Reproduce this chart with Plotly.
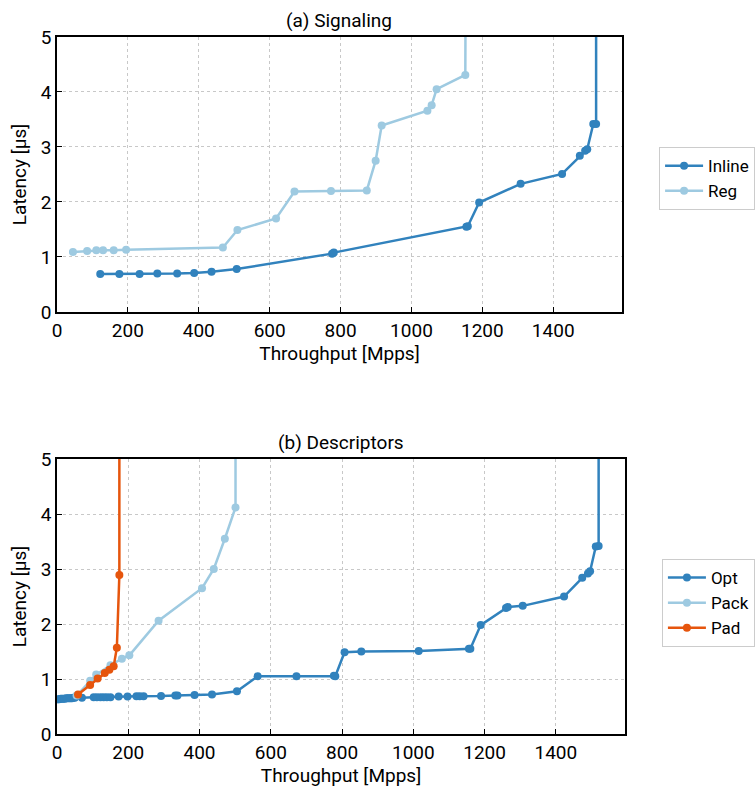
import plotly.graph_objects as go

# ---- (a) Signaling ----
inline_x = [122, 176, 233, 283, 339, 387, 436, 507, 776, 781, 1155, 1159, 1191, 1308, 1425, 1475, 1490, 1496, 1513, 1521, 1521]
inline_y = [0.69, 0.69, 0.69, 0.70, 0.70, 0.71, 0.73, 0.78, 1.06, 1.08, 1.55, 1.56, 1.99, 2.33, 2.51, 2.84, 2.93, 2.96, 3.42, 3.42, 12.0]

reg_x = [45, 85, 111, 130, 160, 195, 468, 509, 618, 670, 773, 874, 899, 916, 1045, 1057, 1071, 1152, 1156]
reg_y = [1.09, 1.11, 1.12, 1.12, 1.12, 1.13, 1.17, 1.49, 1.70, 2.19, 2.20, 2.21, 2.75, 3.39, 3.66, 3.76, 4.05, 4.31, 12.0]

# ---- (b) Descriptors ----
opt_x = [2, 6, 10, 14, 18, 22, 26, 30, 34, 38, 42, 46, 50, 70, 103, 112, 122, 131, 140, 150,
         173, 198, 223, 232, 243, 292, 332, 338, 386, 435, 505, 563, 672, 777, 781, 807, 854,
         1015, 1156, 1160, 1189, 1260, 1265, 1307, 1423, 1474, 1490, 1496, 1512, 1520, 1520]
opt_y = [0.63, 0.63, 0.64, 0.64, 0.64, 0.64, 0.65, 0.65, 0.65, 0.65, 0.65, 0.66, 0.66, 0.66, 0.67, 0.67, 0.67, 0.67, 0.67, 0.67,
         0.68, 0.68, 0.685, 0.685, 0.685, 0.69, 0.70, 0.70, 0.71, 0.72, 0.776, 1.05, 1.05, 1.06, 1.05, 1.485, 1.50,
         1.51, 1.55, 1.55, 1.98, 2.29, 2.31, 2.33, 2.50, 2.84, 2.92, 2.96, 3.41, 3.42, 12.0]

pack_x = [55, 93, 110, 150, 182, 203, 285, 407, 440, 471, 501, 501]
pack_y = [0.70, 0.97, 1.08, 1.25, 1.37, 1.43, 2.06, 2.65, 3.00, 3.55, 4.12, 12.0]

pad_x = [59, 93, 114, 134, 147, 159, 168, 175, 175]
pad_y = [0.72, 0.89, 1.01, 1.11, 1.17, 1.23, 1.57, 2.89, 12.0]

DARK = "#3182bd"
LIGHT = "#9ecae1"
ORANGE = "#e6550d"
FONT = "Roboto"
FS = 19

fig = go.Figure()


def add(x, y, name, color, xa, ya, legend):
    fig.add_trace(go.Scatter(
        x=x, y=y, name=name, mode="lines+markers",
        line=dict(color=color, width=2.5),
        marker=dict(color=color, size=8),
        xaxis=xa, yaxis=ya, legend=legend,
    ))


add(inline_x, inline_y, "Inline", DARK, "x", "y", "legend")
add(reg_x, reg_y, "Reg", LIGHT, "x", "y", "legend")
add(opt_x, opt_y, "Opt", DARK, "x2", "y2", "legend2")
add(pack_x, pack_y, "Pack", LIGHT, "x2", "y2", "legend2")
add(pad_x, pad_y, "Pad", ORANGE, "x2", "y2", "legend2")

xticks = [0, 200, 400, 600, 800, 1000, 1200, 1400]
txt = dict(size=FS, color="black", family=FONT)

common_x = dict(
    range=[0, 1594], tickvals=xticks, ticks="inside", ticklen=5, tickcolor="black",
    showline=True, linecolor="black", linewidth=1.5, mirror=True,
    showgrid=True, gridcolor="#c8c8c8", griddash="dot", gridwidth=1, zeroline=False,
    tickfont=txt,
    title=dict(text="Throughput [Mpps]", font=txt, standoff=4),
    automargin=False,
)
common_y = dict(
    range=[0, 5], dtick=1, ticks="inside", ticklen=5, tickcolor="black",
    showline=True, linecolor="black", linewidth=1.5, mirror=True,
    showgrid=True, gridcolor="#c8c8c8", griddash="dot", gridwidth=1, zeroline=False,
    tickfont=txt,
    title=dict(text="Latency [μs]", font=txt, standoff=9),
    automargin=False,
)

legend_style = dict(
    font=dict(size=17, color="black", family=FONT), itemwidth=38,
    bordercolor="#cccccc", borderwidth=1, bgcolor="white",
    xanchor="left", yanchor="top", tracegroupgap=0,
)

fig.update_layout(
    width=755, height=790,
    margin=dict(l=57, r=130, t=37, b=56, autoexpand=False),
    paper_bgcolor="white", plot_bgcolor="white",
    font=dict(family=FONT, color="black"),
    xaxis=dict(domain=[0, 0.9947], anchor="y", **common_x),
    yaxis=dict(domain=[0.6055, 1.0], anchor="x", **common_y),
    xaxis2=dict(domain=[0, 1.0], anchor="y2", **common_x),
    yaxis2=dict(domain=[0, 0.3945], anchor="x2", **common_y),
    legend=dict(x=1.06, y=0.842, **legend_style),
    legend2=dict(x=1.065, y=0.251, **legend_style),
    annotations=[
        dict(text="(a) Signaling", x=0.4973, xref="paper", y=1.0, yref="paper",
             yshift=3, showarrow=False, xanchor="center", yanchor="bottom", font=txt),
        dict(text="(b) Descriptors", x=0.5, xref="paper", y=0.3945, yref="paper",
             yshift=3, showarrow=False, xanchor="center", yanchor="bottom", font=txt),
    ],
)

fig.write_html("out.html")
